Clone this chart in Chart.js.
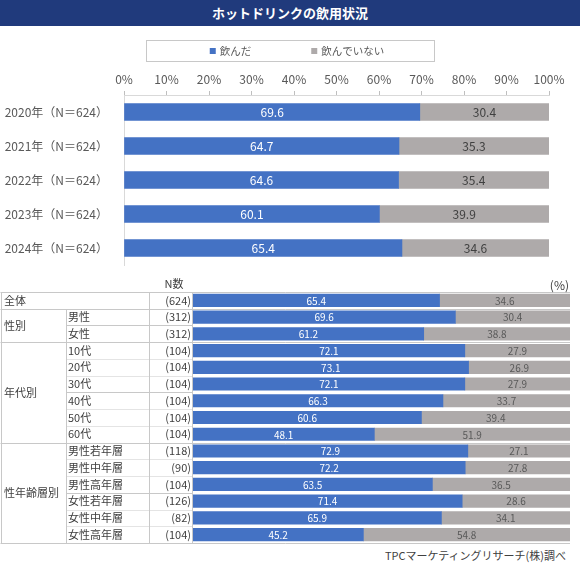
<!DOCTYPE html>
<html>
<head>
<meta charset="utf-8">
<script src="https://cdn.jsdelivr.net/npm/chart.js@4.4.1/dist/chart.umd.min.js"></script>
<style>
  body { margin: 0; width: 580px; height: 572px; position: relative; overflow: hidden; background: #fff;
         font-family: "Noto Sans CJK JP", sans-serif; }
  #title { position: absolute; left: 0; top: 0; width: 580px; height: 26px; line-height: 26px;
           background: #203a7c; color: #fff; font-size: 13px; font-weight: bold; text-align: center; }
  #yearChart { position: absolute; left: 0; top: 26px; }
  #tableChart { position: absolute; left: 0; top: 270px; }
  #source { position: absolute; right: 14px; top: 547px; font-size: 11px; color: #404040; }
</style>
</head>
<body>
<div id="title">ホットドリンクの飲用状況</div>
<canvas id="yearChart" width="580" height="244"></canvas>
<canvas id="tableChart" width="580" height="276"></canvas>
<div id="source">TPCマーケティングリサーチ(株)調べ</div>
<script>
const FONT = '"Noto Sans CJK JP", sans-serif';

// top chart: by year
const years = ['2020年（N＝624）', '2021年（N＝624）', '2022年（N＝624）', '2023年（N＝624）', '2024年（N＝624）'];
const drankByYear = [69.6, 64.7, 64.6, 60.1, 65.4];
const notDrankByYear = [30.4, 35.3, 35.4, 39.9, 34.6];

// bottom table: 2024 by attribute
const rowLabels = ['全体', '男性', '女性', '10代', '20代', '30代', '40代', '50代', '60代',
  '男性若年層', '男性中年層', '男性高年層', '女性若年層', '女性中年層', '女性高年層'];
const groupNames = ['全体', '性別', '年代別', '性年齢層別'];
const groupSizes = [1, 2, 6, 6];
const nValues = [624, 312, 312, 104, 104, 104, 104, 104, 104, 118, 90, 104, 126, 82, 104];
const drank = [65.4, 69.6, 61.2, 72.1, 73.1, 72.1, 66.3, 60.6, 48.1, 72.9, 72.2, 63.5, 71.4, 65.9, 45.2];
const notDrank = [34.6, 30.4, 38.8, 27.9, 26.9, 27.9, 33.7, 39.4, 51.9, 27.1, 27.8, 36.5, 28.6, 34.1, 54.8];

const seriesNames = ['飲んだ', '飲んでいない'];
const colors = ['#4472C4', '#AEAAAA'];

// value text in the middle of each segment
const valueLabels = {
  id: 'valueLabels',
  afterDatasetsDraw(chart, args, opts) {
    const ctx = chart.ctx;
    ctx.save();
    ctx.font = opts.size + 'px ' + FONT;
    ctx.textAlign = 'center';
    ctx.textBaseline = 'middle';
    chart.data.datasets.forEach((ds, di) => {
      chart.getDatasetMeta(di).data.forEach((bar, i) => {
        const p = bar.getCenterPoint();
        ctx.fillStyle = di === 0 ? '#ffffff' : opts.dark;
        ctx.fillText(ds.data[i].toFixed(1), p.x, p.y + 0.5);
      });
    });
    ctx.restore();
  }
};

// legend inside a framed box
const boxLegend = {
  id: 'boxLegend',
  afterDraw(chart) {
    const ctx = chart.ctx;
    const cx = chart.width / 2;
    ctx.save();
    ctx.strokeStyle = '#c8c8c8';
    ctx.lineWidth = 1;
    ctx.strokeRect(Math.round(cx - 144) + 0.5, 14.5, 288, 21);
    ctx.font = '10.5px ' + FONT;
    ctx.textBaseline = 'middle';
    const sq = 6, gap = 60;
    const widths = chart.data.datasets.map(ds => sq + 4 + ctx.measureText(ds.label).width);
    const total = widths.reduce((a, b) => a + b, 0) + gap * (widths.length - 1);
    let x = cx + 7 - total / 2;
    chart.data.datasets.forEach((ds, i) => {
      ctx.fillStyle = ds.backgroundColor;
      ctx.fillRect(x, 25 - sq / 2, sq, sq);
      ctx.fillStyle = '#595959';
      ctx.fillText(ds.label, x + sq + 4, 25);
      x += widths[i] + gap;
    });
    ctx.restore();
  }
};

new Chart(document.getElementById('yearChart'), {
  type: 'bar',
  data: {
    labels: years,
    datasets: [
      { label: seriesNames[0], data: drankByYear, backgroundColor: colors[0], barThickness: 17 },
      { label: seriesNames[1], data: notDrankByYear, backgroundColor: colors[1], barThickness: 17 }
    ]
  },
  options: {
    indexAxis: 'y',
    responsive: false,
    animation: false,
    events: [],
    layout: { padding: { top: 0, left: 0, right: 31, bottom: 5 } },
    plugins: {
      legend: { display: false },
      tooltip: { enabled: false },
      valueLabels: { size: 12, dark: '#404040' }
    },
    scales: {
      x: {
        position: 'top',
        stacked: true,
        min: 0,
        max: 100,
        afterFit: s => { s.height = 69; },
        ticks: { stepSize: 10, padding: 4, color: '#595959', font: { family: FONT, size: 12 },
                 callback: v => v + '%' },
        grid: { drawOnChartArea: false, drawTicks: true, tickLength: 4, color: '#bfbfbf' },
        border: { display: true, color: '#d9d9d9' }
      },
      y: {
        stacked: true,
        afterFit: s => { s.width = 124; s.paddingTop = 0; s.paddingBottom = 0; },
        ticks: { padding: 16, color: '#595959', font: { family: FONT, size: 12 } },
        grid: { display: false, drawTicks: false },
        border: { display: true, color: '#d9d9d9' }
      }
    }
  },
  plugins: [valueLabels, boxLegend]
});

// table lines and texts drawn on the row positions of the y scale
const tableGrid = {
  id: 'tableGrid',
  afterDraw(chart) {
    const { ctx, chartArea: a, scales: { y } } = chart;
    const rowH = (a.bottom - a.top) / rowLabels.length;
    const edge = i => Math.round(y.getPixelForValue(i) - rowH / 2) + 0.5;
    const mid = i => y.getPixelForValue(i);
    const colA = 1.5, colB = 66.5, colC = 149.5, colD = 193;
    const line = (x1, y1, x2, y2, dash) => {
      ctx.setLineDash(dash || []);
      ctx.beginPath(); ctx.moveTo(x1, y1); ctx.lineTo(x2, y2); ctx.stroke();
    };
    ctx.save();
    ctx.lineWidth = 1;

    // row separators inside groups
    let start = 0;
    const groupStarts = [];
    groupSizes.forEach(n => { groupStarts.push(start); start += n; });
    ctx.strokeStyle = '#c8c8c8';
    groupStarts.forEach((s, g) => {
      for (let r = s + 1; r < s + groupSizes[g]; r++) {
        const solid = g > 0 && (r - s) === groupSizes[g] / 2;
        line(colB, edge(r), colD, edge(r), solid ? [] : [1, 1]);
      }
    });

    // group separators, full width
    groupStarts.concat([rowLabels.length]).forEach(r => line(colA - 1, edge(r), a.right, edge(r)));

    // verticals
    const top = edge(0), bottom = edge(rowLabels.length);
    line(colA, top, colA, bottom);
    line(colB, edge(1), colB, bottom);
    line(colC, top, colC, bottom);
    line(colD - 0.5, top, colD - 0.5, bottom);
    ctx.setLineDash([]);

    // texts
    ctx.fillStyle = '#404040';
    ctx.font = '11px ' + FONT;
    ctx.textBaseline = 'middle';
    ctx.textAlign = 'left';
    groupStarts.forEach((s, g) => {
      const yc = (mid(s) + mid(s + groupSizes[g] - 1)) / 2;
      ctx.fillText(groupNames[g], 4, yc);
      if (groupSizes[g] > 1) {
        for (let r = s; r < s + groupSizes[g]; r++) ctx.fillText(rowLabels[r], 68, mid(r));
      }
    });
    ctx.textAlign = 'right';
    nValues.forEach((v, r) => ctx.fillText('(' + v + ')', colD - 2, mid(r)));

    ctx.textAlign = 'center';
    ctx.fillText('N数', 174, top - 9);
    ctx.textAlign = 'right';
    ctx.font = '12px ' + FONT;
    ctx.fillText('(%)', a.right - 1, top - 7);
    ctx.restore();
  }
};

new Chart(document.getElementById('tableChart'), {
  type: 'bar',
  data: {
    labels: rowLabels,
    datasets: [
      { label: seriesNames[0], data: drank, backgroundColor: colors[0], barThickness: 12.5 },
      { label: seriesNames[1], data: notDrank, backgroundColor: colors[1], barThickness: 12.5 }
    ]
  },
  options: {
    indexAxis: 'y',
    responsive: false,
    animation: false,
    events: [],
    layout: { padding: { top: 22, left: 193, right: 10, bottom: 3 } },
    plugins: {
      legend: { display: false },
      tooltip: { enabled: false },
      valueLabels: { size: 10, dark: '#595959' }
    },
    scales: {
      x: { display: false, stacked: true, min: 0, max: 100 },
      y: { display: false, stacked: true }
    }
  },
  plugins: [valueLabels, tableGrid]
});
</script>
</body>
</html>
